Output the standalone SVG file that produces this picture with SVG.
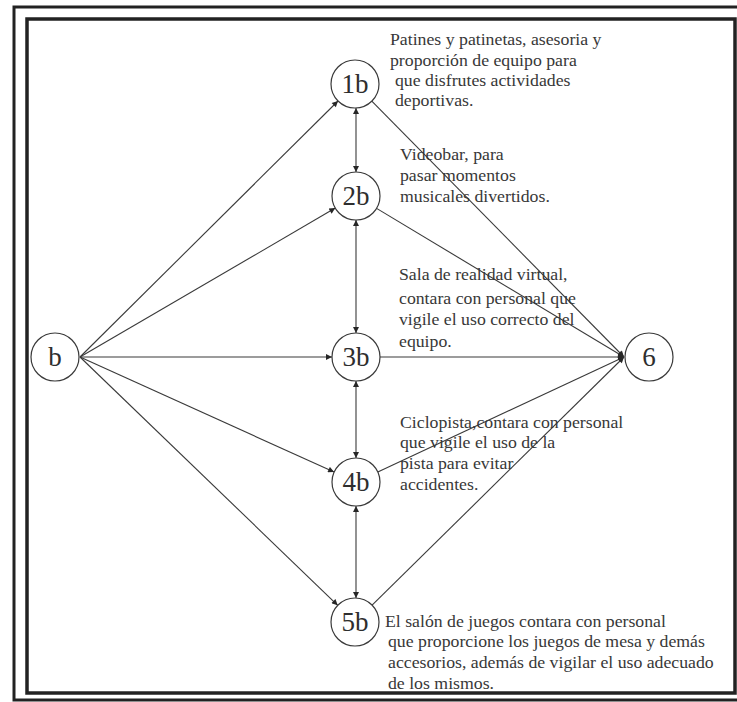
<svg xmlns="http://www.w3.org/2000/svg" width="737" height="702" viewBox="0 0 737 702">
  <style>
    .frame { fill: none; stroke: #222222; }
    .node circle { fill: #ffffff; stroke: #3a3a3a; stroke-width: 1.2; }
    .node text { font-family: "Liberation Serif", "Times New Roman", serif; font-size: 27px; fill: #2e2e2e; text-anchor: middle; }
    .note { font-family: "Liberation Serif", "Times New Roman", serif; font-size: 16px; fill: #383838; }
    .edge { stroke: #3a3a3a; stroke-width: 1.1; fill: none; }
  </style>
  <defs>
    <marker id="ah" viewBox="0 0 10 10" refX="10" refY="5" markerWidth="8" markerHeight="6" markerUnits="userSpaceOnUse" orient="auto-start-reverse">
      <path d="M0,0 L10,5 L0,10 z" fill="#262626"/>
    </marker>
  </defs>
  <rect width="737" height="702" fill="#ffffff"/>
  <g id="frame">
    <path class="frame" d="M740,7 H14 V700 H740" stroke-width="3"/>
    <rect class="frame" x="27" y="19" width="708" height="674" stroke-width="3.5"/>
  </g>
  <g id="connectors">
    <line class="edge" x1="80" y1="357" x2="338" y2="101" marker-end="url(#ah)"/>
    <line class="edge" x1="80" y1="357" x2="335.3" y2="208.1" marker-end="url(#ah)"/>
    <line class="edge" x1="80" y1="357" x2="332" y2="357" marker-end="url(#ah)"/>
    <line class="edge" x1="80" y1="357" x2="334.1" y2="472.1" marker-end="url(#ah)"/>
    <line class="edge" x1="80" y1="357" x2="337.7" y2="605.3" marker-end="url(#ah)"/>
    <line class="edge" x1="371.8" y1="101.1" x2="624" y2="357" marker-end="url(#ah)"/>
    <line class="edge" x1="376.6" y1="208.4" x2="624" y2="357" marker-end="url(#ah)"/>
    <line class="edge" x1="380" y1="357" x2="624" y2="357" marker-end="url(#ah)"/>
    <line class="edge" x1="377.8" y1="471.9" x2="624" y2="357" marker-end="url(#ah)"/>
    <line class="edge" x1="372.1" y1="605.2" x2="624" y2="357" marker-end="url(#ah)"/>
    <line class="edge" x1="356" y1="108" x2="356" y2="172" marker-start="url(#ah)" marker-end="url(#ah)"/>
    <line class="edge" x1="356" y1="220" x2="356" y2="333" marker-start="url(#ah)" marker-end="url(#ah)"/>
    <line class="edge" x1="356" y1="381" x2="356" y2="458" marker-start="url(#ah)" marker-end="url(#ah)"/>
    <line class="edge" x1="356" y1="506" x2="356" y2="598" marker-start="url(#ah)" marker-end="url(#ah)"/>
  </g>
  <g id="node-b" class="node"><circle cx="55" cy="357" r="24"/><text x="55" y="366">b</text></g>
  <g id="node-1b" class="node"><circle cx="355" cy="84" r="24"/><text x="355" y="93">1b</text></g>
  <g id="node-2b" class="node"><circle cx="356" cy="196" r="24"/><text x="356" y="205">2b</text></g>
  <g id="node-3b" class="node"><circle cx="356" cy="357" r="24"/><text x="356" y="366">3b</text></g>
  <g id="node-4b" class="node"><circle cx="356" cy="482" r="24"/><text x="356" y="491">4b</text></g>
  <g id="node-5b" class="node"><circle cx="355" cy="622" r="24"/><text x="355" y="631">5b</text></g>
  <g id="node-6" class="node"><circle cx="649" cy="357" r="24"/><text x="649" y="366">6</text></g>
  <g id="notes">
    <text class="note" transform="translate(390 45) scale(1.11 1)">Patines y patinetas, asesoria y</text>
    <text class="note" transform="translate(390 66) scale(1.11 1)">proporción de equipo para</text>
    <text class="note" transform="translate(395 86) scale(1.11 1)">que disfrutes actividades</text>
    <text class="note" transform="translate(395 106) scale(1.11 1)">deportivas.</text>
    <text class="note" transform="translate(400 160) scale(1.11 1)">Videobar, para</text>
    <text class="note" transform="translate(400 181) scale(1.11 1)">pasar momentos</text>
    <text class="note" transform="translate(400 202) scale(1.11 1)">musicales divertidos.</text>
    <text class="note" transform="translate(399 280) scale(1.11 1)">Sala de realidad virtual,</text>
    <text class="note" transform="translate(399 304) scale(1.11 1)">contara con personal que</text>
    <text class="note" transform="translate(399 325) scale(1.11 1)">vigile el uso correcto del</text>
    <text class="note" transform="translate(399 347) scale(1.11 1)">equipo.</text>
    <text class="note" transform="translate(400 428) scale(1.11 1)">Ciclopista,contara con personal</text>
    <text class="note" transform="translate(400 448) scale(1.11 1)">que vigile el uso de la</text>
    <text class="note" transform="translate(400 469) scale(1.11 1)">pista para evitar</text>
    <text class="note" transform="translate(400 490) scale(1.11 1)">accidentes.</text>
    <text class="note" transform="translate(385 627) scale(1.11 1)">El salón de juegos contara con personal</text>
    <text class="note" transform="translate(388 647) scale(1.11 1)">que proporcione los juegos de mesa y demás</text>
    <text class="note" transform="translate(388 668) scale(1.11 1)">accesorios, además de vigilar el uso adecuado</text>
    <text class="note" transform="translate(388 689) scale(1.11 1)">de los mismos.</text>
  </g>
</svg>
